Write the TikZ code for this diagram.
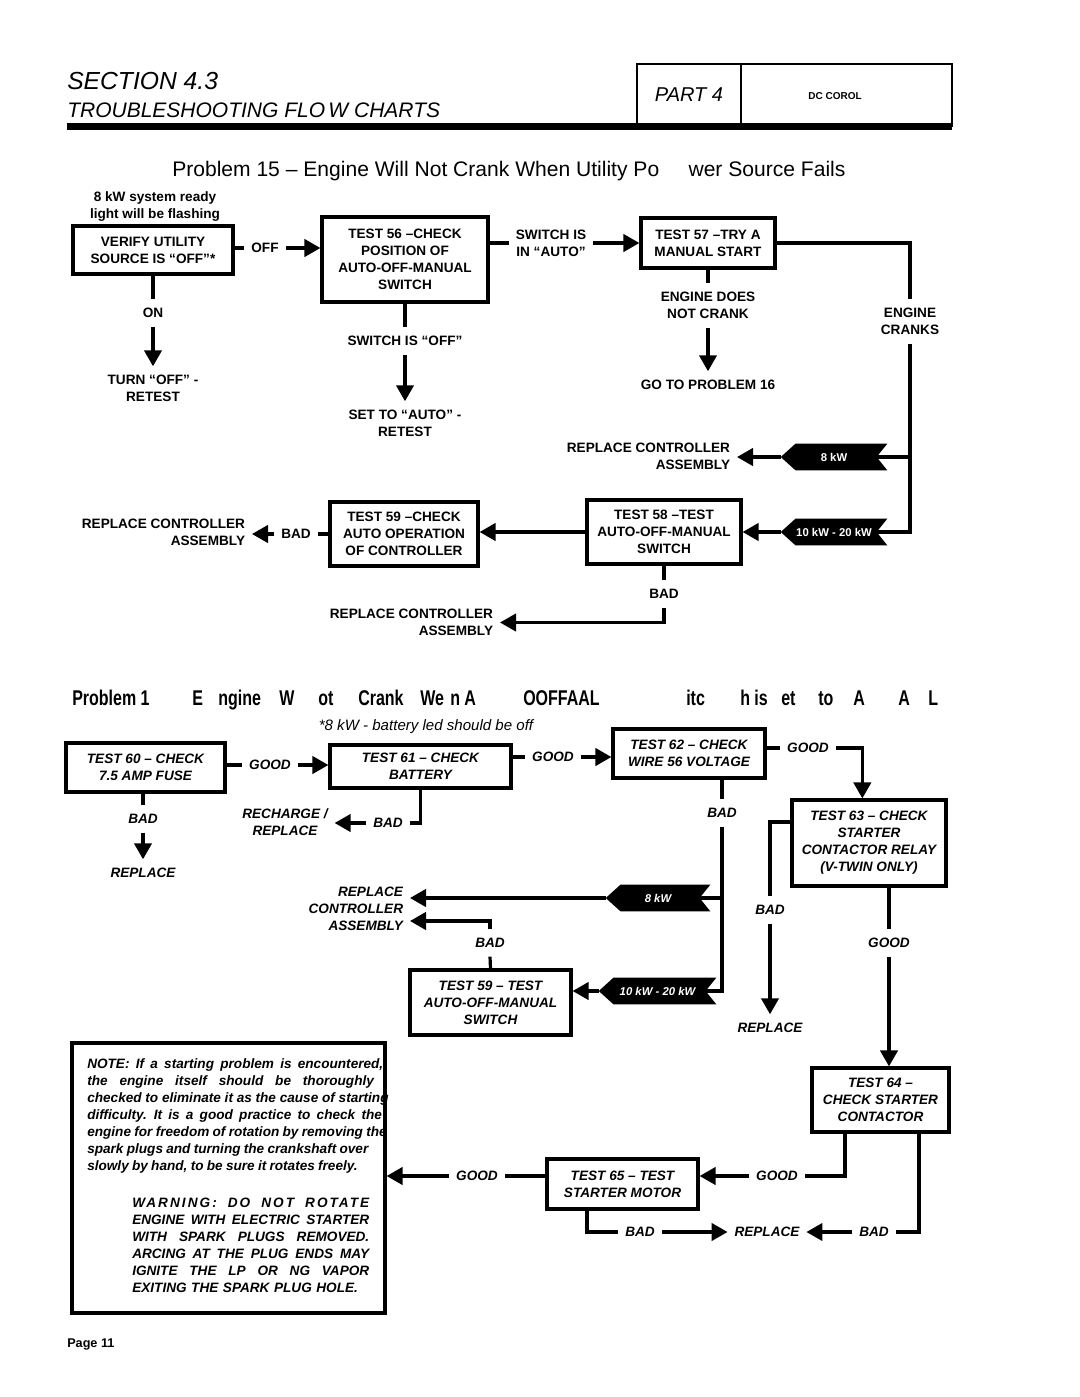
\documentclass[tikz,border=0pt]{standalone}
\usepackage{fontspec}
\setmainfont{Liberation Sans}
\newfontfamily\condfont[FakeStretch=0.75]{Liberation Sans}
\newfontfamily\spacedfont[LetterSpace=15]{Liberation Sans}
\usetikzlibrary{arrows.meta,backgrounds}
\hbadness=10000
\hfuzz=20pt
\newcommand{\lblfont}{\fontsize{10.2}{12.75}\selectfont\bfseries}
\newcommand{\lblfonti}{\fontsize{10.2}{12.75}\selectfont\bfseries\itshape}
\newcommand{\ptfont}{\condfont\bfseries\fontsize{16}{18}\selectfont}
\newcommand{\jline}[2]{\leavevmode\hbox to #1{\spaceskip=0.28em plus 1fil minus 0.1em #2}}
\newcommand{\nline}[1]{\leavevmode\hbox{\spaceskip=0.24em plus 0.1em minus 0.1em #1}}
\tikzset{
 lbl/.style={font=\lblfont, align=center, inner xsep=5pt, inner ysep=6.5pt},
 lbli/.style={lbl, font=\lblfonti},
 box/.style={draw, line width=2.4pt, font=\lblfont, align=center, inner sep=0pt},
 boxi/.style={box, font=\lblfonti},
 ln/.style={line width=2.4pt},
 ar/.style={line width=2.4pt, -{Triangle[length=12pt,width=13pt]}},
 flag/.style={inner sep=0pt, text=white, minimum height=19.5pt, font=\fontsize{8.5}{10}\selectfont\bfseries},
 flagi/.style={flag, font=\fontsize{8.5}{10}\selectfont\bfseries\itshape},
 ptitle/.style={anchor=base west, inner sep=0pt, font=\ptfont},
}
\begin{document}
\begin{tikzpicture}[x=0.75pt,y=-0.75pt]
\begin{scope}[on background layer]
\fill[white] (0,0) rectangle (1080,1397);
\end{scope}
\useasboundingbox (0,0) rectangle (1080,1397);

% ---------- header ----------
\node[anchor=base west, inner sep=0pt, font=\fontsize{18.5}{20}\selectfont\itshape] (sec) at (67,89) {SECTION 4.3};
\node[anchor=base west, inner sep=0pt, font=\fontsize{15.75}{18}\selectfont\itshape] (tfc) at (67,117) {TROUBLESHOOTING FLO\hspace{2.5pt}W CHARTS};
\draw[line width=1.6pt] (637,64) rectangle (952,126);
\draw[line width=1.6pt] (741,64) -- (741,126);
\fill (67,123) rectangle (952,130);
\node[font=\fontsize{15}{18}\selectfont\itshape] (part) at (689,95) {PART 4};
\node[font=\fontsize{7.5}{9}\selectfont\bfseries] (dc) at (835,96) {DC COROL};

% ---------- problem 15 ----------
\node[anchor=base west, inner sep=0pt, font=\fontsize{15.8}{18}\selectfont] (p15) at (172,176) {Problem 15 – Engine Will Not Crank When Utility Po\hspace{22pt}wer Source Fails};

\node[lbl] (rdy) at (155,207) {8 kW system ready\\light will be flashing};
\node[box, minimum width=120pt, minimum height=36pt] (V) at (153,250) {VERIFY UTILITY\\SOURCE IS “OFF”*};
\node[lbl] (off) at (265,248) {OFF};
\node[box, minimum width=124.5pt, minimum height=63.75pt] (T56) at (405,259.5) {TEST 56 –CHECK\\POSITION OF\\AUTO-OFF-MANUAL\\SWITCH};
\node[lbl] (sw) at (551,243) {SWITCH IS\\IN “AUTO”};
\node[box, minimum width=100.5pt, minimum height=37.5pt] (T57) at (708,243) {TEST 57 –TRY A\\MANUAL START};
\node[lbl] (on) at (153,313) {ON};
\node[lbl] (turn) at (153,388.5) {TURN “OFF” -\\RETEST};
\node[lbl] (soff) at (405,341) {SWITCH IS “OFF”};
\node[lbl] (setauto) at (405,423.5) {SET TO “AUTO” -\\RETEST};
\node[lbl] (ndc) at (708,305.5) {ENGINE DOES\\NOT CRANK};
\node[lbl] (go16) at (708,385) {GO TO PROBLEM 16};
\node[lbl] (crk) at (910,321.5) {ENGINE\\CRANKS};
\node[lbl, anchor=east, align=right] (rc1) at (737,456.5) {REPLACE CONTROLLER\\ASSEMBLY};
\node[flag, minimum width=79.5pt] (f8a) at (834,457) {8 kW};
\node[flag, minimum width=79.5pt] (f10a) at (834,532) {10 kW - 20 kW};
\node[box, minimum width=115.5pt, minimum height=48pt] (T58) at (664,532) {TEST 58 –TEST\\AUTO-OFF-MANUAL\\SWITCH};
\node[box, minimum width=111pt, minimum height=48pt] (T59) at (404,534) {TEST 59 –CHECK\\AUTO OPERATION\\OF CONTROLLER};
\node[lbl] (bad1) at (296,534) {BAD};
\node[lbl, anchor=east, align=right] (rc2) at (252,532.5) {REPLACE CONTROLLER\\ASSEMBLY};
\node[lbl] (bad2) at (664,594) {BAD};
\node[lbl, anchor=east, align=right] (rc3) at (500,622.5) {REPLACE CONTROLLER\\ASSEMBLY};

\draw[ln] (V.east |- off.west) -- (off.west);
\draw[ar] (off.east) -- (off.east -| T56.west);
\draw[ln] (T56.east |- sw.west) -- (sw.west);
\draw[ar] (sw.east) -- (sw.east -| T57.west);
\draw[ln] (V.south) -- (on.north);
\draw[ar] (on.south) -- (turn.north);
\draw[ln] (T56.south) -- (soff.north);
\draw[ar] (soff.south) -- (setauto.north);
\draw[ln] (T57.south) -- (ndc.north);
\draw[ar] (ndc.south) -- (go16.north);
\draw[ln] (T57.east) -| (crk.north);
\draw[ln] (crk.south) |- ([xshift=-8pt]f10a.east);
\draw[ln] (crk.south |- f8a.east) -- ([xshift=-8pt]f8a.east);
\draw[ar] (f8a.west) -- (f8a.west -| rc1.east);
\draw[ar] (f10a.west) -- (f10a.west -| T58.east);
\draw[ar] (T58.west) -- (T58.west -| T59.east);
\draw[ln] (T59.west |- bad1.east) -- (bad1.east);
\draw[ar] (bad1.west) -- (bad1.west -| rc2.east);
\draw[ln] (T58.south) -- (bad2.north);
\draw[ar] (bad2.south) |- (rc3.east);

% ---------- problem 16 ----------
\node[ptitle] (t1) at (72,705) {Problem 1};
\node[ptitle] (t2) at (192,705) {E};
\node[ptitle] (t3) at (218,705) {ngine};
\node[ptitle] (t4) at (279,705) {W};
\node[ptitle] (t5) at (318,705) {ot};
\node[ptitle] (t6) at (358,705) {Crank};
\node[ptitle] (t7) at (420,705) {We};
\node[ptitle] (t8) at (450,705) {n A};
\node[ptitle] (t9) at (523,705) {OOFFAAL};
\node[ptitle] (t10) at (686,705) {itc};
\node[ptitle] (t11) at (740,705) {h is};
\node[ptitle] (t12) at (781,705) {et};
\node[ptitle] (t13) at (818,705) {to};
\node[ptitle] (t14) at (853,705) {A};
\node[ptitle] (t15) at (898,705) {A};
\node[ptitle] (t16) at (928,705) {L};

\node[font=\fontsize{11.3}{13}\selectfont\itshape] (star) at (426,727) {*8 kW - battery led should be off};

\node[boxi, minimum width=119.25pt, minimum height=36.75pt] (T60) at (145.5,767.5) {TEST 60 – CHECK\\7.5 AMP FUSE};
\node[lbli] (good1) at (270,765) {GOOD};
\node[boxi, minimum width=135.75pt, minimum height=32.25pt] (T61) at (420.5,766.5) {TEST 61 – CHECK\\BATTERY};
\node[lbli] (good2) at (553,757) {GOOD};
\node[boxi, minimum width=114pt, minimum height=36.75pt] (T62) at (689,753.5) {TEST 62 – CHECK\\WIRE 56 VOLTAGE};
\node[lbli] (good3) at (808,748) {GOOD};
\node[boxi, minimum width=115.5pt, minimum height=64.5pt] (T63) at (869,843) {TEST 63 – CHECK\\STARTER\\CONTACTOR RELAY\\(V-TWIN ONLY)};
\node[lbli] (bad3) at (143,819) {BAD};
\node[lbli] (rep1) at (143,873) {REPLACE};
\node[lbli] (bad4) at (388,823) {BAD};
\node[lbli] (rr) at (285,822.5) {RECHARGE /\\REPLACE};
\node[lbli] (bad5) at (722,813) {BAD};
\node[flagi, minimum width=78pt] (f8b) at (658,898) {8 kW};
\node[flagi, minimum width=87.75pt] (f10b) at (657.5,991) {10 kW - 20 kW};
\node[lbli, anchor=east, align=right] (rca) at (410,909) {REPLACE\\CONTROLLER\\ASSEMBLY};
\node[lbli] (bad6) at (490,943) {BAD};
\node[boxi, minimum width=120.75pt, minimum height=48.75pt] (T59b) at (490.5,1002.5) {TEST 59 – TEST\\AUTO-OFF-MANUAL\\SWITCH};
\node[lbli] (bad7) at (770,910) {BAD};
\node[lbli] (rep2) at (770,1028) {REPLACE};
\node[lbli] (good4) at (889,943) {GOOD};
\node[boxi, minimum width=102.75pt, minimum height=48pt] (T64) at (880.5,1100) {TEST 64 –\\CHECK STARTER\\CONTACTOR};
\node[lbli] (good5) at (777,1176) {GOOD};
\node[boxi, minimum width=113.25pt, minimum height=37.5pt] (T65) at (622.5,1184) {TEST 65 – TEST\\STARTER MOTOR};
\node[lbli] (good6) at (477,1176) {GOOD};
\node[lbli] (bad8) at (640,1232) {BAD};
\node[lbli] (rep3) at (767,1232) {REPLACE};
\node[lbli] (bad9) at (874,1232) {BAD};
\coordinate (rca2) at (rca.east |- 0,921);

\node[draw, line width=2.4pt, minimum width=234.75pt, minimum height=202.5pt, inner sep=0pt] (note) at (228.5,1178) {};
\node[anchor=north west, inner sep=0pt, text width=240pt, align=left, font=\lblfonti] (notetxt) at (87,1058) {%
\jline{222pt}{NOTE: If a starting problem is encountered,}\\
\jline{215pt}{the engine itself should be thoroughly}\\
\jline{226pt}{checked to eliminate it as the cause of starting}\\
\jline{221pt}{difficulty. It is a good practice to check the}\\
\nline{engine for freedom of rotation by removing the}\\
\nline{spark plugs and turning the crankshaft over}\\
\nline{slowly by hand, to be sure it rotates freely.}};
\node[anchor=north west, inner sep=0pt, text width=180pt, align=left, font=\lblfonti] (warn) at (132,1198) {%
\jline{177.75pt}{\spacedfont WARNING: DO NOT ROTATE}\\
\jline{177.75pt}{ENGINE WITH ELECTRIC STARTER}\\
\jline{177.75pt}{WITH SPARK PLUGS REMOVED.}\\
\jline{177.75pt}{ARCING AT THE PLUG ENDS MAY}\\
\jline{177.75pt}{IGNITE THE LP OR NG VAPOR}\\
EXITING THE SPARK PLUG HOLE.};

\draw[ln] (T60.east |- good1.west) -- (good1.west);
\draw[ar] (good1.east) -- (good1.east -| T61.west);
\draw[ln] (bad3.north |- T60.south) -- (bad3.north);
\draw[ar] (bad3.south) -- (rep1.north);
\draw[ln] (T61.south) |- (bad4.east);
\draw[ar] (bad4.west) -- (bad4.west -| rr.east);
\draw[ln] (T61.east |- good2.west) -- (good2.west);
\draw[ar] (good2.east) -- (good2.east -| T62.west);
\draw[ln] (T62.east |- good3.west) -- (good3.west);
\draw[ar] (good3.east) -| ([xshift=-5pt]T63.north);
\draw[ln] (bad5.north |- T62.south) -- (bad5.north);
\draw[ln] (bad5.south) |- ([xshift=-8pt]f10b.east);
\draw[ln] (bad5.south |- f8b.east) -- ([xshift=-8pt]f8b.east);
\draw[ar] (f8b.west) -- (f8b.west -| rca.east);
\draw[ln] (T59b.north) -- (bad6.south);
\draw[ar] (bad6.north) |- (rca2);
\draw[ar] (f10b.west) -- (f10b.west -| T59b.east);
\draw[ln] ([yshift=15.75pt]T63.west) -| (bad7.north);
\draw[ar] (bad7.south) -- (rep2.north);
\draw[ln] (good4.north |- T63.south) -- (good4.north);
\draw[ar] (good4.south) -- (good4.south |- T64.north);
\draw[ln] ([xshift=-26.6pt]T64.south) |- (good5.east);
\draw[ar] (good5.west) -- (good5.west -| T65.east);
\draw[ln] (T65.west |- good6.east) -- (good6.east);
\draw[ar] (good6.west) -- (good6.west -| note.east);
\draw[ln] ([xshift=-26.6pt]T65.south) |- (bad8.west);
\draw[ar] (bad8.east) -- (rep3.west);
\draw[ln] ([xshift=28.9pt]T64.south) |- (bad9.east);
\draw[ar] (bad9.west) -- (rep3.east);

\node[anchor=base west, inner sep=0pt, font=\fontsize{9.5}{11}\selectfont\bfseries] (pg) at (67,1347) {Page 11};

% flags (behind their white text)
\begin{scope}[on background layer]
\foreach \f in {f8a,f10a,f8b,f10b}{
 \fill (\f.west) -- ([xshift=11pt]\f.north west) -- (\f.north east) -- ([xshift=-8pt]\f.east) -- (\f.south east) -- ([xshift=11pt]\f.south west) -- cycle;
}
\end{scope}
\end{tikzpicture}
\end{document}
